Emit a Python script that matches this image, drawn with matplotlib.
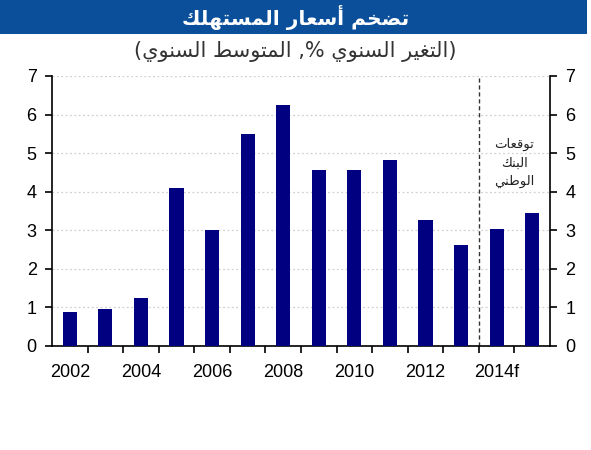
import matplotlib
matplotlib.use("Agg")
import matplotlib.pyplot as plt
from matplotlib.patches import Rectangle

# data
years = ["2002", "2003", "2004", "2005", "2006", "2007", "2008",
         "2009", "2010", "2011", "2012", "2013", "2014f", "2015f"]
inflation = [0.87, 0.97, 1.25, 4.1, 3.02, 5.5, 6.25,
             4.57, 4.57, 4.83, 3.27, 2.63, 3.04, 3.45]
shown_labels = ["2002", "2004", "2006", "2008", "2010", "2012", "2014f"]
title_text = "تضخم أسعار المستهلك"
subtitle_text = "(التغير السنوي %, المتوسط السنوي)"
note_lines = ["توقعات", "البنك", "الوطني"]

# matplotlib 3.10 does no Arabic shaping, so pick the presentation
# forms by hand and lay the letters out right to left
ISO = {"ا": 0xFE8D, "أ": 0xFE83, "ب": 0xFE8F, "ت": 0xFE95, "خ": 0xFEA5,
       "ر": 0xFEAD, "س": 0xFEB1, "ض": 0xFEBD, "ط": 0xFEC1, "ع": 0xFEC9,
       "غ": 0xFECD, "ق": 0xFED5, "ك": 0xFED9, "ل": 0xFEDD, "م": 0xFEE1,
       "ن": 0xFEE5, "ه": 0xFEE9, "و": 0xFEED, "ي": 0xFEF1}
RIGHT_ONLY = set("اأرو")
MIRROR = {"(": ")", ")": "("}


def shape(text):
    out = []
    for i, ch in enumerate(text):
        if ch not in ISO:
            out.append(MIRROR.get(ch, ch))
            continue
        prev = text[i - 1] if i > 0 else ""
        nxt = text[i + 1] if i + 1 < len(text) else ""
        join_prev = prev in ISO and prev not in RIGHT_ONLY
        join_next = nxt in ISO and ch not in RIGHT_ONLY
        if join_prev and join_next:
            off = 3
        elif join_prev:
            off = 1
        elif join_next:
            off = 2
        else:
            off = 0
        out.append(chr(ISO[ch] + off))
    return "".join(reversed(out))


plt.rcParams["font.family"] = ["Liberation Sans", "DejaVu Sans"]

fig = plt.figure(figsize=(5.91, 4.5), dpi=100)

# title band
fig.patches.append(Rectangle((0, 1 - 34 / 450), 587 / 591, 34 / 450,
                             transform=fig.transFigure, facecolor="#0b4f9b",
                             edgecolor="none", zorder=0))
fig.text(0.50, 1 - 17 / 450, shape(title_text), color="white",
         fontsize=14.5, fontweight="bold", family="DejaVu Sans",
         ha="center", va="center")
fig.text(0.50, 1 - 52 / 450, shape(subtitle_text), color="#333333",
         fontsize=15, family="DejaVu Sans", ha="center", va="center")

ax = fig.add_axes([52 / 591, 1 - 346 / 450, 498 / 591, 270 / 450])
x = list(range(len(years)))
ax.bar(x, inflation, width=0.4, color="#000080", zorder=3)

ax.set_xlim(-0.5, len(years) - 0.5)
ax.set_ylim(0, 7)
ax.set_yticks(range(0, 8))
ax.yaxis.grid(True, color="#d0d0d0", linestyle=(0, (1.5, 2)), linewidth=0.9)
ax.tick_params(axis="y", which="both", labelsize=13, direction="out",
               length=5, width=1.2, left=True, right=True,
               labelleft=True, labelright=True, pad=6)

ax.set_xticks([i for i in x if years[i] in shown_labels])
ax.set_xticklabels(shown_labels)
ax.set_xticks([i + 0.5 for i in x[:-1]], minor=True)
ax.tick_params(axis="x", which="major", length=0, labelsize=13, pad=13)
ax.tick_params(axis="x", which="minor", length=5, width=1.2, direction="out")

for side in ["left", "right", "bottom"]:
    ax.spines[side].set_linewidth(1.2)
ax.spines["top"].set_visible(False)

# forecast divider and note
ax.axvline(11.5, color="#333333", linestyle=(0, (3, 2)), linewidth=1)
ax.text(12.5, 4.74, "\n".join(shape(s) for s in note_lines),
        family="DejaVu Sans", fontsize=9.5, color="#222222",
        ha="center", va="center", linespacing=1.55)

fig.savefig("out.png", dpi=100)
